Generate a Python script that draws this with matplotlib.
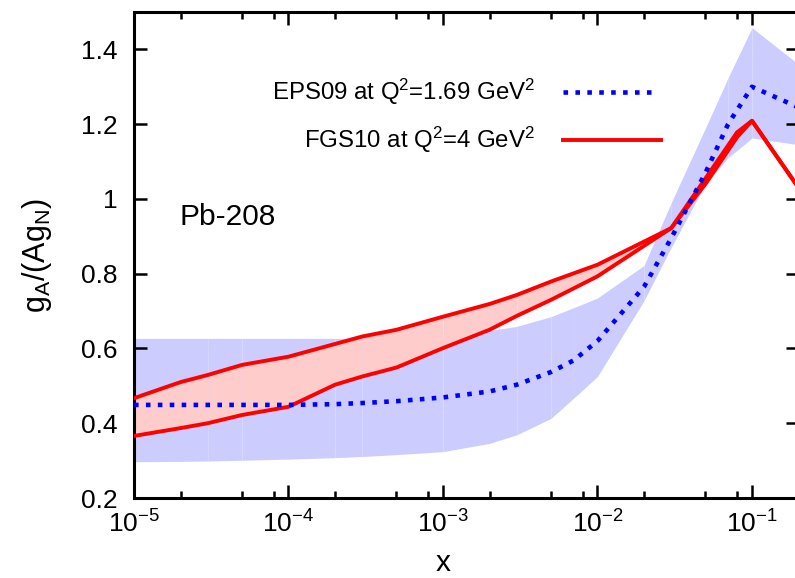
import numpy as np
import matplotlib
matplotlib.use('Agg')
import matplotlib.pyplot as plt
from matplotlib.ticker import LogLocator, NullFormatter

plt.rcParams['font.family'] = ['Liberation Sans', 'DejaVu Sans']
plt.rcParams['mathtext.fontset'] = 'custom'
plt.rcParams['mathtext.rm'] = 'Liberation Sans'
plt.rcParams['mathtext.it'] = 'Liberation Sans:italic'
plt.rcParams['mathtext.default'] = 'regular'
plt.rcParams['axes.unicode_minus'] = False

# EPS09 at Q^2 = 1.69 GeV^2 (central value and error band)
x_eps = np.array([1e-5, 2e-5, 3e-5, 5e-5, 1e-4, 2e-4, 3e-4, 5e-4, 1e-3, 2e-3,
                  3e-3, 5e-3, 7e-3, 1e-2, 2e-2, 3e-2, 5e-2, 7e-2, 1e-1, 2e-1])
eps_mid = np.array([0.449, 0.449, 0.449, 0.449, 0.449, 0.451, 0.454, 0.459, 0.469, 0.485,
                    0.503, 0.537, 0.568, 0.620, 0.765, 0.895, 1.070, 1.200, 1.300, 1.245])
eps_hi = np.array([0.627, 0.627, 0.627, 0.627, 0.627, 0.627, 0.627, 0.628, 0.630, 0.648,
                   0.659, 0.685, 0.709, 0.735, 0.822, 0.990, 1.190, 1.324, 1.458, 1.360])
eps_lo = np.array([0.297, 0.298, 0.299, 0.301, 0.304, 0.308, 0.311, 0.316, 0.324, 0.346,
                   0.369, 0.413, 0.467, 0.525, 0.728, 0.870, 1.040, 1.110, 1.163, 1.145])

# FGS10 at Q^2 = 4 GeV^2 (two model curves)
x_fgs = np.array([1e-5, 2e-5, 3e-5, 5e-5, 1e-4, 2e-4, 3e-4, 5e-4, 1e-3, 2e-3,
                  3e-3, 5e-3, 1e-2, 3e-2, 5e-2, 8e-2, 1e-1, 2e-1])
fgs_hi = np.array([0.467, 0.510, 0.529, 0.556, 0.578, 0.612, 0.632, 0.650, 0.685, 0.719,
                   0.743, 0.779, 0.824, 0.922, 1.055, 1.178, 1.209, 1.030])
fgs_lo = np.array([0.366, 0.387, 0.400, 0.422, 0.444, 0.503, 0.525, 0.549, 0.601, 0.650,
                   0.687, 0.730, 0.793, 0.922, 1.040, 1.165, 1.209, 1.030])

fig = plt.figure(figsize=(7.95, 5.78), dpi=100)
ax = fig.add_axes([134 / 795, 80 / 578, 664.5 / 795, 486 / 578])

# bands drawn piece by piece (gives the faint seams of the original)
for i in range(len(x_eps) - 1):
    ax.fill_between(x_eps[i:i + 2], eps_lo[i:i + 2], eps_hi[i:i + 2],
                    color='#ccccff', lw=0, zorder=1)
for i in range(len(x_fgs) - 1):
    ax.fill_between(x_fgs[i:i + 2], fgs_lo[i:i + 2], fgs_hi[i:i + 2],
                    color='#ffcccc', lw=0, zorder=2)

ax.plot(x_fgs, fgs_hi, color='#ff0000', lw=2.8, zorder=3)
ax.plot(x_fgs, fgs_lo, color='#ff0000', lw=2.8, zorder=3)
ax.plot(x_eps, eps_mid, color='#0000ff', lw=3.3, dashes=(1, 1.6),
        dash_capstyle='butt', zorder=4)

ax.set_xscale('log')
ax.set_xlim(1e-5, 0.2)
ax.set_ylim(0.2, 1.5)
ax.set_yticks([0.2, 0.4, 0.6, 0.8, 1.0, 1.2, 1.4])
ax.set_yticklabels(['0.2', '0.4', '0.6', '0.8', '1', '1.2', '1.4'])
ax.xaxis.set_major_locator(LogLocator(base=10, numticks=10))
ax.xaxis.set_minor_locator(LogLocator(base=10, subs=[2, 5, 8], numticks=10))
ax.xaxis.set_minor_formatter(NullFormatter())

for s in ax.spines.values():
    s.set_linewidth(2.2)
ax.tick_params(which='both', direction='in', top=True, right=True,
               labelsize=19, width=1.8)
ax.tick_params(which='major', length=9.5)
ax.tick_params(which='minor', length=5)
ax.tick_params(axis='x', which='major', pad=9)
ax.tick_params(axis='y', which='major', pad=12)

ax.set_xlabel('x', fontsize=21.5)
ax.xaxis.set_label_coords(0.465, -0.105)
ax.set_ylabel('g$_A$/(Ag$_N$)', fontsize=22)
ax.yaxis.set_label_coords(-0.12, 0.5)

ax.text(0.069, 0.579, 'Pb-208', transform=ax.transAxes, fontsize=21.5,
        ha='left', va='center')

# legend by hand, like the gnuplot key
ax.text(0.6035, 0.8348, 'EPS09 at Q$^2$=1.69 GeV$^2$', transform=ax.transAxes,
        fontsize=17.3, ha='right', va='center')
ax.plot([0.6456, 0.7810], [0.8348, 0.8348], transform=ax.transAxes,
        color='#0000ff', lw=3.3, dashes=(1, 1.6), dash_capstyle='butt')
ax.text(0.6035, 0.7366, 'FGS10 at Q$^2$=4 GeV$^2$', transform=ax.transAxes,
        fontsize=17.3, ha='right', va='center')
ax.plot([0.6456, 0.7931], [0.7366, 0.7366], transform=ax.transAxes,
        color='#ff0000', lw=2.8)

fig.savefig('out.png', dpi=100)
